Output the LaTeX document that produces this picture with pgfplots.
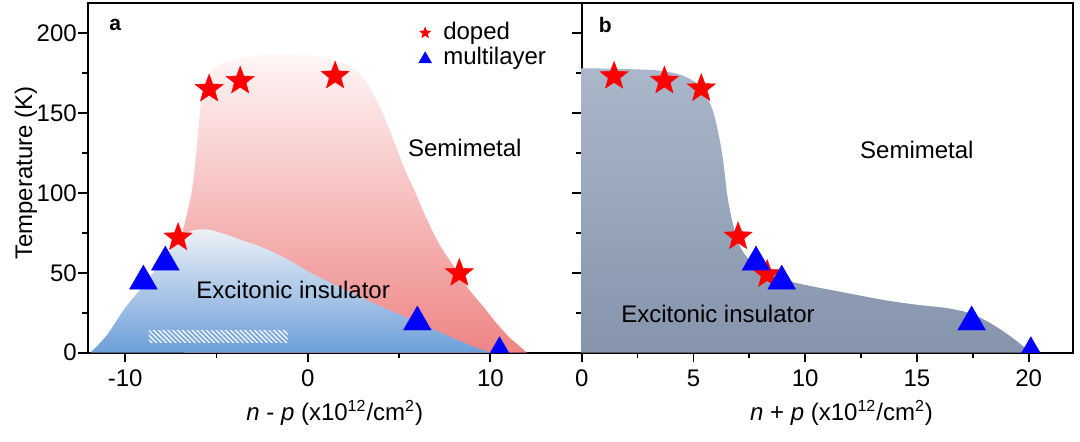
\documentclass[border=0pt]{standalone}
\usepackage{pgfplots}
\pgfplotsset{compat=1.18}
\usepackage{fontspec}
\setmainfont{Liberation Sans}
\usetikzlibrary{patterns.meta}
\definecolor{redtop}{HTML}{FFF6F6}
\definecolor{redbot}{HTML}{EE8585}
\definecolor{bluetop}{HTML}{EDF1F6}
\definecolor{bluebot}{HTML}{6C9FD9}
\definecolor{graytop}{HTML}{AAB7CA}
\definecolor{graybot}{HTML}{8694AC}
\pgfdeclareplotmark{fstar}{%
 \pgfpathmoveto{\pgfpointpolar{90}{\pgfplotmarksize}}%
 \pgfpathlineto{\pgfpointpolar{126}{0.42*\pgfplotmarksize}}%
 \pgfpathlineto{\pgfpointpolar{162}{\pgfplotmarksize}}%
 \pgfpathlineto{\pgfpointpolar{198}{0.42*\pgfplotmarksize}}%
 \pgfpathlineto{\pgfpointpolar{234}{\pgfplotmarksize}}%
 \pgfpathlineto{\pgfpointpolar{270}{0.42*\pgfplotmarksize}}%
 \pgfpathlineto{\pgfpointpolar{306}{\pgfplotmarksize}}%
 \pgfpathlineto{\pgfpointpolar{342}{0.42*\pgfplotmarksize}}%
 \pgfpathlineto{\pgfpointpolar{18}{\pgfplotmarksize}}%
 \pgfpathlineto{\pgfpointpolar{54}{0.42*\pgfplotmarksize}}%
 \pgfpathclose
 \pgfusepathqfillstroke}
\pgfplotsset{
  common/.style={
    scale only axis, anchor=south west, height=175pt,
    ymin=0, ymax=219,
    ytick={0,50,100,150,200}, minor ytick={25,75,125,175},
    tick align=outside, xtick pos=bottom, ytick pos=left,
    major tick length=4.7pt, minor tick length=2.7pt,
    axis line style={line width=0.9pt},
    tick style={black, line width=0.9pt},
    /pgf/number format/assume math mode=true,
    tick label style={font=\fontsize{12}{14}\selectfont},
    yticklabel style={inner sep=0pt, xshift=-0.6pt},
    xticklabel style={yshift=-0.4pt},
    label style={font=\fontsize{12}{14}\selectfont},
    clip marker paths=true,
  },
  star/.style={only marks, mark=fstar, mark size=7.4pt, color=red, mark options={fill=red, draw=red, line width=0.2pt}},
  tri/.style={only marks, mark=triangle*, mark size=8pt, color=blue, mark options={fill=blue, draw=blue, line width=0.2pt}},
}
\begin{document}
\begin{tikzpicture}
\useasboundingbox (-43.85pt,-44.15pt) rectangle (496.15pt,176.35pt);
\begin{axis}[common, at={(0pt,0pt)}, width=247pt,
  xmin=-12.05, xmax=15,
  xtick={-10,0,10}, xticklabels={-10,0,10}, minor xtick={-5,5},
  xlabel={\textit{n} - \textit{p} (x10\textsuperscript{12}/cm\textsuperscript{2})},
  xlabel style={at={(axis description cs:0.5,-0.171)}, anchor=center},
  ylabel={Temperature (K)},
  ylabel style={at={(axis description cs:-0.125,0.513)}, anchor=center},
]
% red dome
\addplot[draw=none, top color=redtop, bottom color=redbot, smooth, tension=0.5] coordinates {
(-6.8,78) (-6.45,95) (-6.3,105) (-6.1,125) (-5.95,145) (-5.8,160) (-5.55,172) (-5,179) (-3.8,184) (-2.2,186.5) (-0.5,186.5) (1,185) (2,181) (2.8,175) (3.4,166) (4.1,150) (4.7,133) (5.3,115) (5.9,100) (6.5,84) (7.2,68) (8,54) (8.8,40) (9.6,29) (10.3,19) (11,10) (11.5,5) (12,0)
} \closedcycle;
% blue excitonic insulator
\addplot[draw=none, top color=bluetop, bottom color=bluebot, smooth, tension=0.5] coordinates {
(-11.9,0) (-11,11) (-10,28) (-9,42) (-8,57) (-7.2,68) (-6.6,75) (-6.1,77) (-5.4,77) (-4.5,74) (-3.5,70) (-2.5,66) (-1.2,59) (0,51) (1.2,44) (2.5,37) (3.8,30) (5,24) (6.2,18) (7.4,12) (8.6,6) (9.5,2) (10.1,0)
} \closedcycle;
% hatched bar
\addplot[draw=none, pattern={Lines[angle=-45, distance=1.7pt, line width=0.6pt]}, pattern color=white] coordinates {
(-8.7,6.3) (-1.1,6.3) (-1.1,14.2) (-8.7,14.2)} -- cycle;
\addplot[star] coordinates {(-5.4,165) (-3.7,170) (1.5,173.2) (-7.1,72) (8.3,49.7)};
\addplot[tri] coordinates {(-9.0,44.8) (-7.8,56.7) (6.0,19.2) (10.5,0)};
% legend
\addplot[only marks, mark=fstar, mark size=2.7pt, color=red, mark options={fill=red}] coordinates {(6.43,200.1)};
\addplot[only marks, mark=triangle*, mark size=3.5pt, color=blue, mark options={fill=blue}] coordinates {(6.43,183.7)};
\node[anchor=west, inner sep=0pt, font=\fontsize{12}{14}\selectfont] at (axis cs:7.4,200) {doped};
\node[anchor=west, inner sep=0pt, font=\fontsize{12}{14}\selectfont] at (axis cs:7.4,184.5) {multilayer};
\node[font=\fontsize{12}{14}\selectfont] at (axis cs:8.6,128) {Semimetal};
\node[font=\fontsize{12}{14}\selectfont] at (axis cs:-0.8,39) {Excitonic insulator};
\node[font=\fontsize{10.5}{12}\selectfont\bfseries] at (axis cs:-10.55,205) {a};
\end{axis}
\begin{axis}[common, at={(247pt,0pt)}, width=245.8pt,
  xmin=0, xmax=22,
  xtick={0,5,10,15,20}, minor xtick={2.5,7.5,12.5,17.5},
  yticklabels={},
  xlabel={\textit{n} + \textit{p} (x10\textsuperscript{12}/cm\textsuperscript{2})},
  xlabel style={at={(axis description cs:0.5285,-0.171)}, anchor=center},
]
\addplot[draw=none, top color=graytop, bottom color=graybot, smooth, tension=0.5] coordinates {
(0,178) (2,177.5) (3.5,176.5) (4.5,173.5) (5.2,168) (5.6,160) (5.9,150) (6.15,135) (6.35,118) (6.5,100) (6.65,88) (6.85,76) (7.1,66) (7.5,58) (8,52) (8.7,47.5) (9.5,44) (10.5,41) (12,37) (13.5,33) (15,30) (16.3,28) (17.3,25) (18.1,20) (18.8,14) (19.4,8) (19.8,3.5) (20.1,0)
} \closedcycle;
\addplot[star] coordinates {(1.45,173) (3.7,170.1) (5.35,165.3) (7.0,72.6) (8.3,49)};
\addplot[tri] coordinates {(7.8,56.7) (8.95,44.8) (17.45,19.2) (20.1,0)};
\node[font=\fontsize{12}{14}\selectfont] at (axis cs:15.0,127) {Semimetal};
\node[font=\fontsize{12}{14}\selectfont] at (axis cs:6.1,24) {Excitonic insulator};
\node[font=\fontsize{10.5}{12}\selectfont\bfseries] at (axis cs:1.05,205) {b};
\end{axis}
\end{tikzpicture}
\end{document}
